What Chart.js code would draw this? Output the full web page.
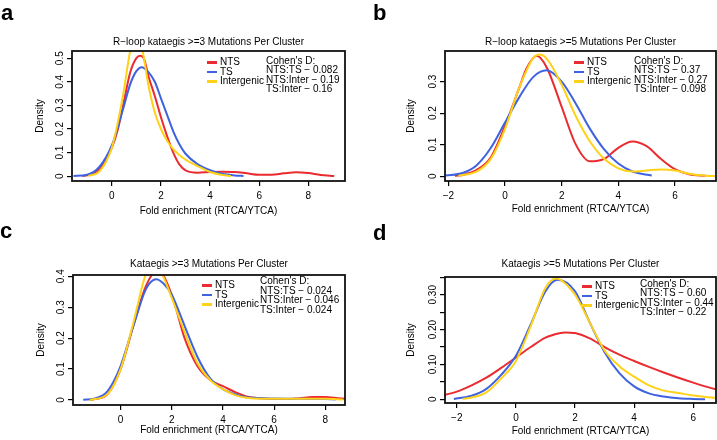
<!DOCTYPE html>
<html>
<head>
<meta charset="utf-8">
<script src="https://cdn.jsdelivr.net/npm/chart.js@4"></script>
<style>
  body { margin: 0; background: #fff; font-family: "Liberation Sans", Arial, sans-serif; }
  #page { position: relative; width: 717px; height: 440px; overflow: hidden; }
  canvas { position: absolute; }
  .letter { position: absolute; font-size: 22px; font-weight: bold; line-height: 22px; }
  .legend, .cohen { position: absolute; font-size: 10px; line-height: 9.5px; white-space: nowrap; }
  .legend div { position: relative; padding-left: 13px; }
  .legend span { position: absolute; left: 0; top: 4px; width: 10px; height: 2.5px; }
</style>
</head>
<body>
<div id="page">
  <canvas id="js--chart--a" width="358" height="220" style="left:0;top:0"></canvas>
  <canvas id="js--chart--b" width="359" height="220" style="left:358px;top:0"></canvas>
  <canvas id="js--chart--c" width="358" height="220" style="left:0;top:220px"></canvas>
  <canvas id="js--chart--d" width="359" height="220" style="left:358px;top:220px"></canvas>
</div>
<script>
// series names and colours
const seriesNames = ["NTS", "TS", "Intergenic"];
const seriesColors = ["#EA2B30", "#3E62E0", "#FFD21A"];

// panel a: R-loop kataegis >=3
const aNtsX = [-1.2, -1.0, -0.5, 0, 0.25, 0.5, 0.75, 1.0, 1.15, 1.3, 1.5, 1.75, 2.0, 2.25, 2.5, 2.75, 3.0, 3.5, 4.0, 4.5, 5.0, 5.5, 6.0, 6.5, 7.0, 7.5, 8.0, 8.5, 9.05];
const aNtsY = [0.001, 0.004, 0.03, 0.12, 0.2, 0.32, 0.44, 0.5, 0.51, 0.5, 0.42, 0.34, 0.25, 0.17, 0.1, 0.05, 0.025, 0.015, 0.018, 0.019, 0.018, 0.012, 0.006, 0.006, 0.012, 0.017, 0.013, 0.005, 0.001];
const aTsX = [-1.56, -1.0, -0.5, 0, 0.25, 0.5, 0.75, 1.0, 1.22, 1.5, 1.75, 2.0, 2.25, 2.5, 2.75, 3.0, 3.5, 4.0, 4.5, 5.0, 5.36];
const aTsY = [0.001, 0.006, 0.04, 0.13, 0.21, 0.30, 0.39, 0.445, 0.462, 0.44, 0.40, 0.33, 0.26, 0.19, 0.135, 0.095, 0.05, 0.025, 0.01, 0.003, 0.001];
const aInterX = [-0.95, -0.5, 0, 0.25, 0.5, 0.75, 1.0, 1.25, 1.5, 1.75, 2.0, 2.25, 2.5, 2.75, 3.0, 3.5, 4.0, 4.5, 4.85];
const aInterY = [0.001, 0.02, 0.12, 0.23, 0.37, 0.53, 0.59, 0.53, 0.38, 0.27, 0.20, 0.15, 0.115, 0.09, 0.07, 0.042, 0.018, 0.005, 0.001];
const aXTicks = [0, 2, 4, 6, 8];
const aXLabels = ["0", "2", "4", "6", "8"];
const aYTicks = [0, 0.1, 0.2, 0.3, 0.4, 0.5];
const aYLabels = ["0", "0.1", "0.2", "0.3", "0.4", "0.5"];
const aCohen = ["Cohen's D:", "NTS:TS − 0.082", "NTS:Inter − 0.19", "TS:Inter − 0.16"];

// panel b: R-loop kataegis >=5
const bNtsX = [-1.77, -1.5, -1.0, -0.5, 0, 0.5, 0.75, 1.0, 1.12, 1.25, 1.5, 2.0, 2.5, 3.0, 3.5, 4.0, 4.5, 5.0, 5.5, 6.0, 6.5, 7.09];
const bNtsY = [0.001, 0.004, 0.02, 0.06, 0.16, 0.28, 0.34, 0.375, 0.382, 0.375, 0.34, 0.22, 0.10, 0.047, 0.055, 0.09, 0.11, 0.095, 0.055, 0.022, 0.006, 0.001];
const bTsX = [-2.1, -1.5, -1.0, -0.5, 0, 0.5, 1.0, 1.47, 2.0, 2.5, 3.0, 3.5, 4.0, 4.5, 5.18];
const bTsY = [0.002, 0.01, 0.035, 0.09, 0.17, 0.25, 0.315, 0.336, 0.30, 0.23, 0.15, 0.085, 0.04, 0.015, 0.002];
const bInterX = [-1.65, -1.0, -0.5, 0, 0.5, 1.0, 1.22, 1.5, 2.0, 2.5, 3.0, 3.5, 4.0, 4.5, 5.0, 5.5, 6.0, 6.5, 7.0, 7.6];
const bInterY = [0.001, 0.015, 0.055, 0.15, 0.28, 0.375, 0.386, 0.37, 0.29, 0.19, 0.11, 0.055, 0.025, 0.015, 0.018, 0.021, 0.018, 0.008, 0.002, 0.0];
const bXTicks = [-2, 0, 2, 4, 6];
const bXLabels = ["−2", "0", "2", "4", "6"];
const bYTicks = [0, 0.1, 0.2, 0.3];
const bYLabels = ["0", "0.1", "0.2", "0.3"];
const bCohen = ["Cohen's D:", "NTS:TS − 0.37", "NTS:Inter − 0.27", "TS:Inter − 0.098"];

// panel c: Kataegis >=3
const cNtsX = [-1.2, -1.0, -0.5, 0, 0.5, 1.0, 1.45, 2.0, 2.5, 3.0, 3.5, 4.0, 4.5, 5.0, 5.5, 6.0, 6.5, 7.0, 7.5, 8.0, 8.5, 9.0];
const cNtsY = [0.0, 0.003, 0.02, 0.10, 0.24, 0.37, 0.42, 0.34, 0.20, 0.11, 0.065, 0.045, 0.025, 0.01, 0.006, 0.003, 0.003, 0.006, 0.01, 0.01, 0.006, 0.002];
const cTsX = [-1.46, -1.0, -0.5, 0, 0.5, 1.0, 1.4, 1.75, 2.0, 2.5, 3.0, 3.5, 4.0, 4.5, 5.0, 6.0, 7.0, 8.0, 8.4];
const cTsY = [0.001, 0.005, 0.03, 0.11, 0.24, 0.36, 0.39, 0.37, 0.34, 0.24, 0.14, 0.07, 0.035, 0.018, 0.008, 0.005, 0.004, 0.003, 0.002];
const cInterX = [-1.2, -0.5, 0, 0.5, 1.0, 1.3, 1.6, 2.0, 2.5, 3.0, 3.5, 4.0, 4.5, 5.0, 6.0, 7.0, 8.0, 8.7];
const cInterY = [0.0, 0.02, 0.10, 0.25, 0.41, 0.435, 0.41, 0.33, 0.22, 0.12, 0.065, 0.035, 0.015, 0.007, 0.004, 0.004, 0.004, 0.002];
const cXTicks = [0, 2, 4, 6, 8];
const cXLabels = ["0", "2", "4", "6", "8"];
const cYTicks = [0, 0.1, 0.2, 0.3, 0.4];
const cYLabels = ["0", "0.1", "0.2", "0.3", "0.4"];
const cCohen = ["Cohen's D:", "NTS:TS − 0.024", "NTS:Inter − 0.046", "TS:Inter − 0.024"];

// panel d: Kataegis >=5
const dNtsX = [-2.6, -2.0, -1.5, -1.0, -0.5, 0, 0.5, 1.0, 1.5, 1.65, 2.0, 2.5, 3.0, 3.5, 4.0, 4.5, 5.0, 5.5, 6.0, 6.5, 6.9];
const dNtsY = [0.009, 0.022, 0.04, 0.062, 0.09, 0.12, 0.15, 0.177, 0.19, 0.192, 0.19, 0.175, 0.15, 0.128, 0.11, 0.093, 0.077, 0.062, 0.048, 0.035, 0.026];
const dTsX = [-2.1, -1.5, -1.0, -0.5, 0, 0.5, 1.0, 1.4, 2.0, 2.5, 3.0, 3.5, 4.0, 4.5, 5.0, 5.5, 6.0, 6.4];
const dTsY = [0.001, 0.01, 0.03, 0.07, 0.125, 0.215, 0.31, 0.343, 0.31, 0.22, 0.135, 0.075, 0.037, 0.017, 0.008, 0.003, 0.001, 0.0];
const dInterX = [-1.8, -1.5, -1.0, -0.5, 0, 0.5, 1.0, 1.35, 2.0, 2.5, 3.0, 3.5, 4.0, 4.5, 5.0, 5.5, 6.0, 6.5, 6.9];
const dInterY = [0.001, 0.005, 0.02, 0.06, 0.11, 0.21, 0.32, 0.347, 0.30, 0.22, 0.14, 0.095, 0.065, 0.04, 0.025, 0.018, 0.011, 0.006, 0.003];
const dXTicks = [-2, 0, 2, 4, 6];
const dXLabels = ["−2", "0", "2", "4", "6"];
const dYTicks = [0, 0.05, 0.1, 0.15, 0.2, 0.25, 0.3, 0.35];
const dYLabels = ["0", "", "0.10", "", "0.20", "", "0.30", ""];
const dCohen = ["Cohen's D:", "NTS:TS − 0.60", "NTS:Inter − 0.44", "TS:Inter − 0.22"];

const FONT = "'Liberation Sans', Arial, sans-serif";

function points(xs, ys) {
  return xs.map(function (x, i) {
    return { x: x, y: ys[i] };
  });
}

// draws the R style box and the vertical y tick labels
const rBox = {
  id: "rBox",
  afterDraw: function (chart) {
    const ctx = chart.ctx;
    const area = chart.chartArea;
    const yScale = chart.scales.y;
    const labels = chart.options.plugins.rBox.labels;
    ctx.save();
    ctx.fillStyle = "#000";
    ctx.font = "10px " + FONT;
    ctx.textAlign = "center";
    ctx.textBaseline = "alphabetic";
    yScale.ticks.forEach(function (tick, i) {
      if (!labels[i]) return;
      ctx.save();
      ctx.translate(area.left - 9, yScale.getPixelForValue(tick.value));
      ctx.rotate(-Math.PI / 2);
      ctx.fillText(labels[i], 0, 0);
      ctx.restore();
    });
    ctx.strokeStyle = "#111";
    ctx.lineWidth = 1.8;
    ctx.strokeRect(area.left, area.top, area.right - area.left, area.bottom - area.top);
    ctx.restore();
  },
};

function makePanel(id, title, series, xr, yr, xTicks, xLabels, yTicks, yLabels, lay) {
  const datasets = series.map(function (s, i) {
    return {
      label: seriesNames[i],
      data: points(s[0], s[1]),
      borderColor: seriesColors[i],
      borderWidth: 2,
      pointRadius: 0,
      cubicInterpolationMode: "monotone",
      order: 3 - i,
    };
  });

  const config = {
    type: "line",
    data: { datasets: datasets },
    options: {
      responsive: false,
      animation: false,
      layout: { padding: lay.pad },
      plugins: {
        legend: { display: false },
        tooltip: { enabled: false },
        title: {
          display: true,
          text: title,
          fullSize: false,
          color: "#000",
          font: { family: FONT, size: 10, weight: "normal", lineHeight: 1.2 },
          padding: lay.titlePad,
        },
        rBox: { labels: yLabels },
      },
      scales: {
        x: {
          type: "linear",
          min: xr[0],
          max: xr[1],
          afterBuildTicks: function (scale) {
            scale.ticks = xTicks.map(function (v) { return { value: v }; });
          },
          afterFit: function (scale) { scale.height = lay.xH; },
          border: { display: false },
          grid: { drawOnChartArea: false, drawTicks: true, tickLength: 5, color: "#000", lineWidth: 1.2 },
          ticks: {
            color: "#000",
            padding: 4,
            maxRotation: 0,
            font: { family: FONT, size: 10 },
            callback: function (v, i) { return xLabels[i]; },
          },
          title: {
            display: true,
            text: "Fold enrichment (RTCA/YTCA)",
            color: "#000",
            padding: 0,
            font: { family: FONT, size: 10, lineHeight: 1.2 },
          },
        },
        y: {
          min: yr[0],
          max: yr[1],
          afterBuildTicks: function (scale) {
            scale.ticks = yTicks.map(function (v) { return { value: v }; });
          },
          afterFit: function (scale) { scale.width = lay.yW; },
          border: { display: false },
          grid: { drawOnChartArea: false, drawTicks: true, tickLength: 5, color: "#000", lineWidth: 1.2 },
          ticks: { color: "rgba(0,0,0,0)", font: { family: FONT, size: 10 } },
          title: {
            display: true,
            text: "Density",
            color: "#000",
            padding: 0,
            font: { family: FONT, size: 10, lineHeight: 1.2 },
          },
        },
      },
    },
    plugins: [rBox],
  };
  return new Chart(document.getElementById(id), config);
}

function addText(page, lay, letter, cohen) {
  const l = document.createElement("div");
  l.className = "letter";
  l.style.left = lay.letter[0] + "px";
  l.style.top = lay.letter[1] + "px";
  l.innerText = letter;
  page.appendChild(l);

  const legend = document.createElement("div");
  legend.className = "legend";
  legend.style.left = lay.legend[0] + "px";
  legend.style.top = lay.legend[1] + "px";
  seriesNames.forEach(function (name, i) {
    const row = document.createElement("div");
    const sw = document.createElement("span");
    sw.style.background = seriesColors[i];
    row.appendChild(sw);
    row.appendChild(document.createTextNode(name));
    legend.appendChild(row);
  });
  page.appendChild(legend);

  const c = document.createElement("div");
  c.className = "cohen";
  c.style.left = lay.cohen[0] + "px";
  c.style.top = lay.cohen[1] + "px";
  c.innerHTML = cohen.join("<br>");
  page.appendChild(c);
}

const page = document.getElementById("page");

makePanel("js--chart--a", "R−loop kataegis >=3 Mutations Per Cluster",
  [[aNtsX, aNtsY], [aTsX, aTsY], [aInterX, aInterY]],
  [-1.62, 9.49], [-0.0204, 0.5304], aXTicks, aXLabels, aYTicks, aYLabels,
  { pad: { left: 34.5, top: 30, right: 13, bottom: 3 }, titlePad: { top: 6, bottom: 3 }, xH: 36, yW: 37.5 });
addText(page, { letter: [1, 2], legend: [207, 57], cohen: [266, 55.5] }, "a", aCohen);

makePanel("js--chart--b", "R−loop kataegis >=5 Mutations Per Cluster",
  [[bNtsX, bNtsY], [bTsX, bTsY], [bInterX, bInterY]],
  [-2.12, 7.45], [-0.0153, 0.397], bXTicks, bXLabels, bYTicks, bYLabels,
  { pad: { left: 47, top: 30, right: 1, bottom: 4.5 }, titlePad: { top: 6, bottom: 3 }, xH: 34.5, yW: 40 });
addText(page, { letter: [373, 1.5], legend: [574, 57], cohen: [634, 55.5] }, "b", bCohen);

makePanel("js--chart--c", "Kataegis >=3 Mutations Per Cluster",
  [[cNtsX, cNtsY], [cTsX, cTsY], [cInterX, cInterY]],
  [-1.86, 8.77], [-0.016, 0.404], cXTicks, cXLabels, cYTicks, cYLabels,
  { pad: { left: 35, top: 32, right: 13, bottom: 3.5 }, titlePad: { top: 6, bottom: 5 }, xH: 31.5, yW: 38 });
addText(page, { letter: [0, 219.5], legend: [202, 280], cohen: [260, 276] }, "c", cCohen);

makePanel("js--chart--d", "Kataegis >=5 Mutations Per Cluster",
  [[dNtsX, dNtsY], [dTsX, dTsY], [dInterX, dInterY]],
  [-2.4, 6.77], [-0.0106, 0.351], dXTicks, dXLabels, dYTicks, dYLabels,
  { pad: { left: 47, top: 32, right: 1, bottom: 3 }, titlePad: { top: 6, bottom: 7 }, xH: 34, yW: 40 });
addText(page, { letter: [373, 221.5], legend: [582, 281], cohen: [640, 278.5] }, "d", dCohen);
</script>
</body>
</html>
